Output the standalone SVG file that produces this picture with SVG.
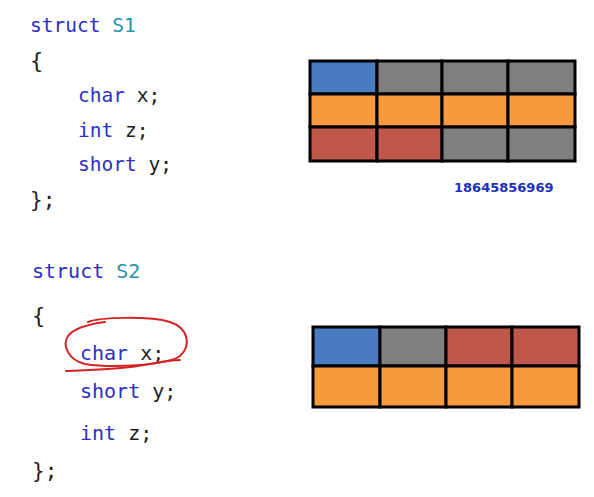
<svg xmlns="http://www.w3.org/2000/svg" width="594" height="497" viewBox="0 0 594 497">
<style>
.code{font-family:"DejaVu Sans Mono","Liberation Mono",monospace;fill:#1e1e1e}
.kw{fill:#2e2ec4}
.ty{fill:#2b91af}
.cell{stroke:#000;stroke-width:3}
.b{fill:#4a7bbf}.g{fill:#7f7f7f}.o{fill:#f79a3d}.r{fill:#c0574b}
.ink{fill:none;stroke:#d42222;stroke-width:2;stroke-linecap:round}
</style>
<rect width="594" height="497" fill="#fff"/>
<g id="code-s1" class="code" font-size="19.5">
<text x="30" y="32"><tspan class="kw">struct</tspan> <tspan class="ty">S1</tspan></text>
<text x="30" y="68" font-size="22">{</text>
<text x="78" y="102"><tspan class="kw">char</tspan> x;</text>
<text x="78" y="137"><tspan class="kw">int</tspan> z;</text>
<text x="78" y="171"><tspan class="kw">short</tspan> y;</text>
<text x="30" y="207" font-size="21">};</text>
</g>
<g id="code-s2" class="code" font-size="20">
<text x="32" y="278"><tspan class="kw">struct</tspan> <tspan class="ty">S2</tspan></text>
<text x="32" y="323" font-size="22">{</text>
<text x="80" y="360"><tspan class="kw">char</tspan> x;</text>
<text x="80" y="398"><tspan class="kw">short</tspan> y;</text>
<text x="80" y="440"><tspan class="kw">int</tspan> z;</text>
<text x="32" y="478" font-size="21">};</text>
</g>
<g id="mark">
<path class="ink" d="M88 322 C100 317,150 316,170 322 C188 328,192 345,180 356 C165 366,110 368,85 364 C68 360,62 345,68 336 C74 328,90 324,105 322"/>
<path class="ink" d="M66 371 C90 370,115 369,130 367 C150 365,165 360,180 360"/>
</g>
<g id="grid-s1">
<rect class="cell b" x="310" y="61" width="67" height="33"/>
<rect class="cell g" x="377" y="61" width="65" height="33"/>
<rect class="cell g" x="442" y="61" width="66" height="33"/>
<rect class="cell g" x="508" y="61" width="67" height="33"/>
<rect class="cell o" x="310" y="94" width="67" height="33"/>
<rect class="cell o" x="377" y="94" width="65" height="33"/>
<rect class="cell o" x="442" y="94" width="66" height="33"/>
<rect class="cell o" x="508" y="94" width="67" height="33"/>
<rect class="cell r" x="310" y="127" width="67" height="34"/>
<rect class="cell r" x="377" y="127" width="65" height="34"/>
<rect class="cell g" x="442" y="127" width="66" height="34"/>
<rect class="cell g" x="508" y="127" width="67" height="34"/>
</g>
<g id="watermark">
<text x="454" y="192" font-family="DejaVu Sans,sans-serif" font-weight="bold" font-size="13" fill="#1a2fc0">18645856969</text>
</g>
<g id="grid-s2">
<rect class="cell b" x="313" y="327" width="67" height="39"/>
<rect class="cell g" x="380" y="327" width="66" height="39"/>
<rect class="cell r" x="446" y="327" width="66" height="39"/>
<rect class="cell r" x="512" y="327" width="67" height="39"/>
<rect class="cell o" x="313" y="366" width="67" height="41"/>
<rect class="cell o" x="380" y="366" width="66" height="41"/>
<rect class="cell o" x="446" y="366" width="66" height="41"/>
<rect class="cell o" x="512" y="366" width="67" height="41"/>
</g>
</svg>
